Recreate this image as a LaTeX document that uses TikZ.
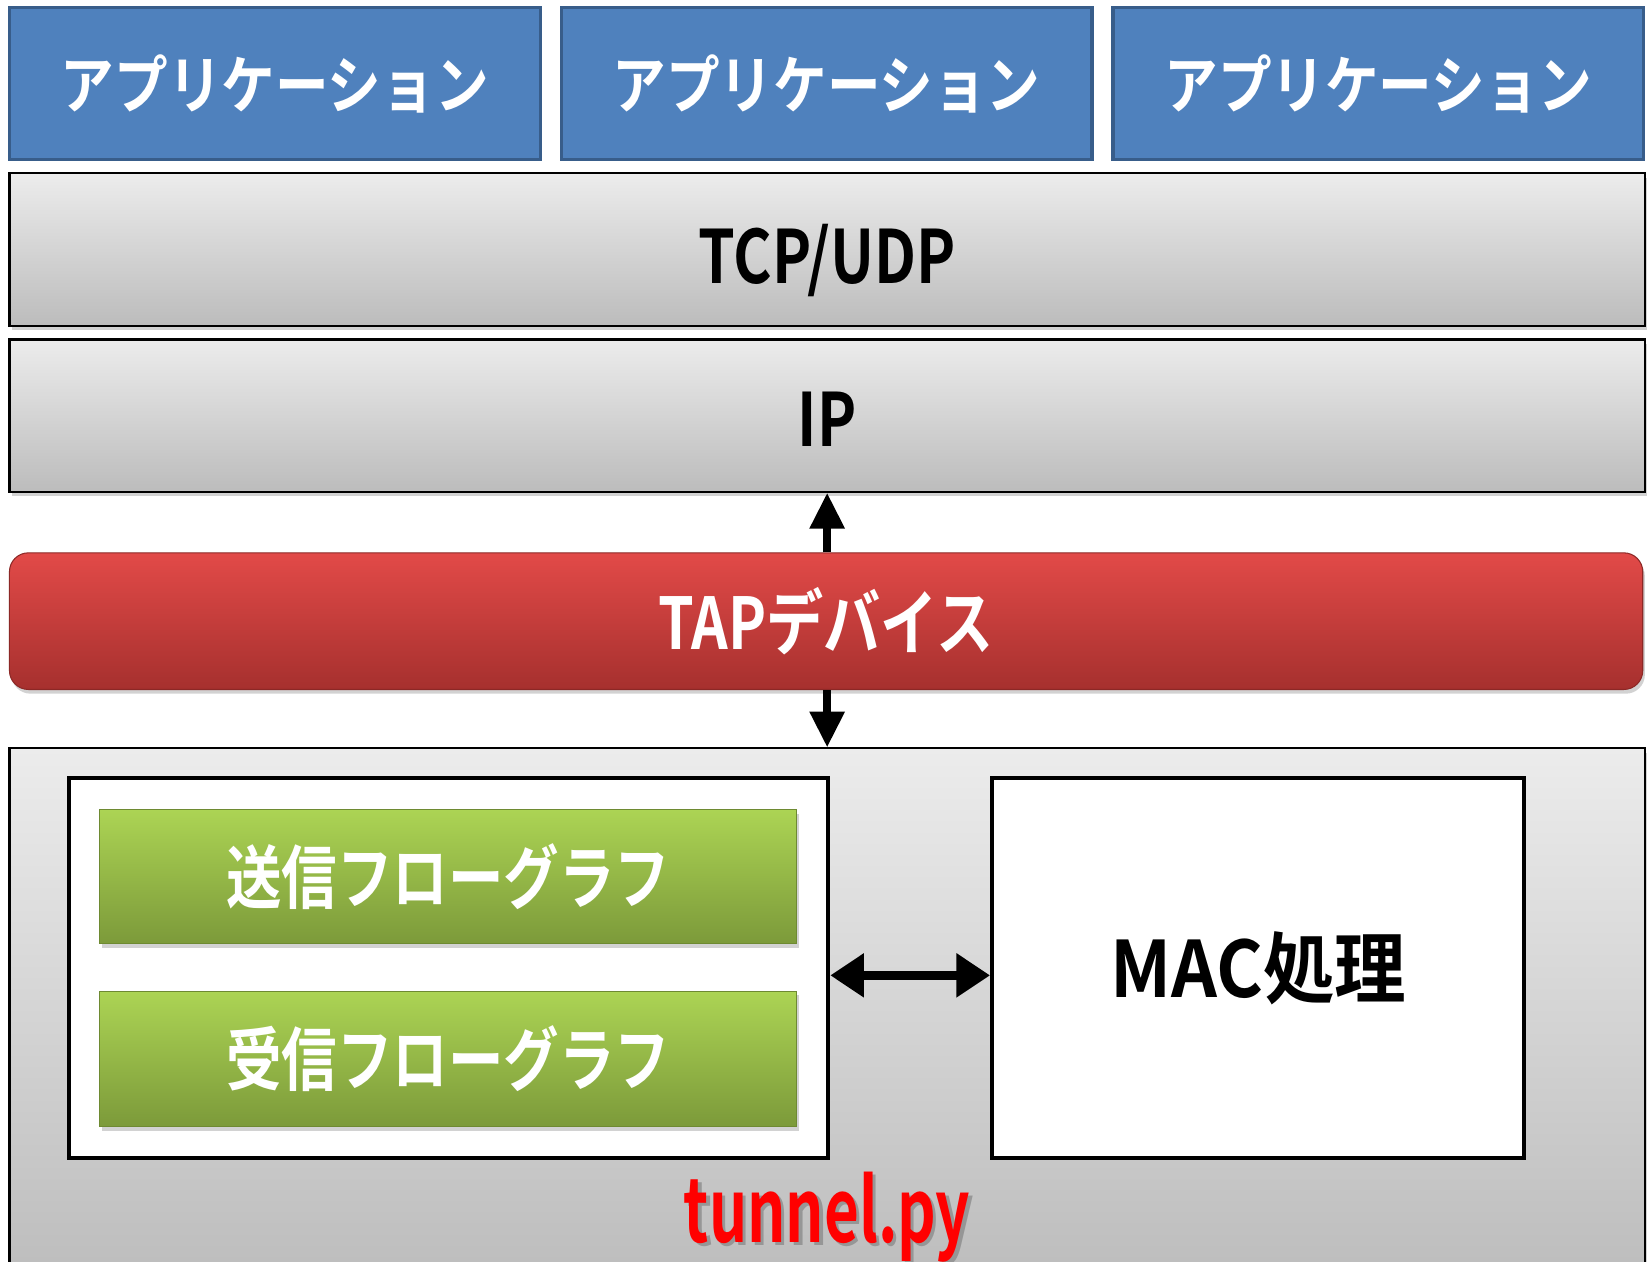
\documentclass[tikz,border=0pt]{standalone}
\usepackage{fontspec}
\usetikzlibrary{arrows.meta,shadows,calc}
\newfontfamily\jpA[FakeStretch=0.85]{Noto Sans CJK JP Bold}
\newfontfamily\jpB[FakeStretch=0.8]{Noto Sans CJK JP Bold}
\newfontfamily\jpC[FakeStretch=0.92]{Noto Sans CJK JP Bold}
\newfontfamily\jpD[FakeStretch=0.68]{Noto Sans CJK JP Bold}
\definecolor{appblue}{RGB}{79,129,189}
\definecolor{appborder}{RGB}{56,93,138}
\definecolor{laytop}{RGB}{236,236,236}
\definecolor{laybot}{RGB}{188,188,188}
\definecolor{taptop}{RGB}{226,74,72}
\definecolor{tapbot}{RGB}{166,48,46}
\definecolor{tapborder}{RGB}{140,40,38}
\definecolor{grtop}{RGB}{172,212,84}
\definecolor{grbot}{RGB}{124,154,58}
\definecolor{grborder}{RGB}{110,138,50}
\tikzset{
  x=1pt, y=-1pt,
  appbox/.style={draw=appborder, line width=3pt, fill=appblue, minimum width=505pt, minimum height=145pt, inner sep=0pt, text=white, font=\jpA\fontsize{60}{60}\selectfont},
  layer/.style={draw=black, line width=2pt, top color=laytop, bottom color=laybot, inner sep=0pt, drop shadow={opacity=0.35, shadow xshift=2pt, shadow yshift=-4pt}, font=\jpB\fontsize{70}{70}\selectfont},
  tapbox/.style={draw=tapborder, line width=1pt, top color=taptop, bottom color=tapbot, rounded corners=18pt, inner sep=0pt, text=white, drop shadow={opacity=0.35, shadow xshift=2pt, shadow yshift=-4pt}, font=\jpB\fontsize{68}{68}\selectfont},
  whitebox/.style={draw=black, line width=4pt, fill=white, inner sep=0pt},
  greenbox/.style={draw=grborder, line width=1pt, top color=grtop, bottom color=grbot, inner sep=0pt, text=white, drop shadow={opacity=0.35, shadow xshift=2pt, shadow yshift=-4pt}, font=\jpB\fontsize{66}{66}\selectfont},
  varrow/.style={line width=7pt, -{Triangle[width=32pt,length=34pt]}},
  harrow/.style={line width=8pt, {Triangle[width=40pt,length=32pt]}-{Triangle[width=40pt,length=32pt]}},
}
\begin{document}
\begin{tikzpicture}
\clip (0,0) rectangle (1568,1200);
\fill[white] (0,0) rectangle (1568,1200);
% applications
\node[appbox] (app1) at (261.5,79.5) {アプリケーション};
\node[appbox] (app2) at (786.5,79.5) {アプリケーション};
\node[appbox] (app3) at (1311.5,79.5) {アプリケーション};
% layers
\node[layer, minimum width=1556pt, minimum height=145pt] (tcp) at (787,237.5) {\raisebox{-32.5pt}[0pt][0pt]{TCP/UDP}};
\node[layer, minimum width=1556pt, minimum height=145pt] (ip) at (787,395.5) {\raisebox{-29.5pt}[0pt][0pt]{IP}};
\node[tapbox, minimum width=1554pt, minimum height=130pt] (tap) at (786,591) {TAPデバイス};
\node[layer, minimum width=1556pt, minimum height=510pt, drop shadow={opacity=0}] (tunnel) at (787,967) {};
% inner boxes
\node[whitebox, minimum width=722pt, minimum height=362pt] (flows) at (427,921) {};
\node[greenbox, minimum width=663pt, minimum height=128pt] (tx) at (426.5,834) {送信フローグラフ};
\node[greenbox, minimum width=663pt, minimum height=129pt] (rx) at (426.5,1007.5) {受信フローグラフ};
\node[whitebox, minimum width=506pt, minimum height=362pt, font=\jpC\fontsize{74}{74}\selectfont] (mac) at (1197,921) {MAC処理};
% tunnel.py label
\node[text=black!45, opacity=0.8, font=\jpD\fontsize{84}{84}\selectfont] at (790,1161) {tunnel.py};
\node[text=red, font=\jpD\fontsize{84}{84}\selectfont] (tlabel) at (787,1158) {tunnel.py};
% arrows
\draw[varrow] (tap.north -| ip.south) -- (ip.south);
\draw[varrow] (tap.south -| tunnel.north) -- (tunnel.north);
\draw[harrow] ($(flows.east)+(0,7)$) -- ($(mac.west)+(0,7)$);
\end{tikzpicture}
\end{document}
